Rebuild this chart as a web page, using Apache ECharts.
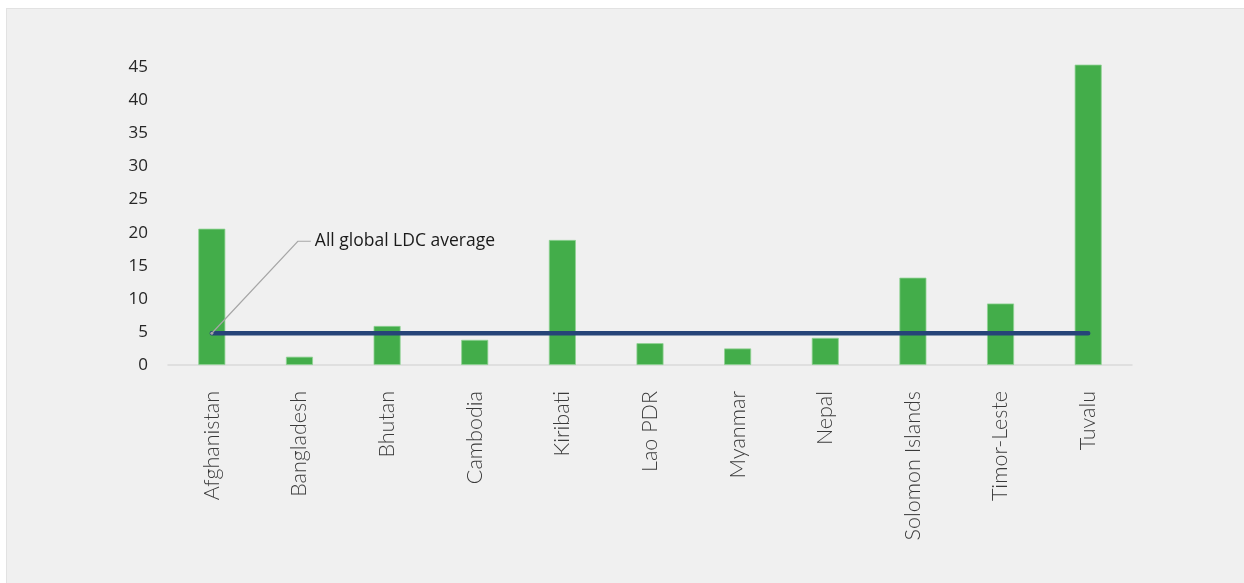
<!DOCTYPE html>
<html>
<head>
<meta charset="utf-8">
<script src="https://cdn.jsdelivr.net/npm/echarts@6/dist/echarts.min.js"></script>
<style>
html,body{margin:0;padding:0;background:#ffffff;}
#panel{position:absolute;left:6px;top:8px;width:1240px;height:577px;background:#f0f0f0;border:1px solid #e2e2e2;box-sizing:border-box;}
#chart{position:absolute;left:0;top:0;width:1244px;height:583px;}
</style>
</head>
<body>
<div id="panel"></div>
<div id="chart"></div>
<script>
const categories = ['Afghanistan','Bangladesh','Bhutan','Cambodia','Kiribati','Lao PDR','Myanmar','Nepal','Solomon Islands','Timor-Leste','Tuvalu'];
const countryValues = [20.6, 1.25, 5.9, 3.8, 18.9, 3.3, 2.5, 4.1, 13.2, 9.3, 45.4];
const ldcAverage = 4.8;
const averageValues = categories.map(() => ldcAverage);
const averageLabel = 'All global LDC average';
const yTicks = [0, 5, 10, 15, 20, 25, 30, 35, 40, 45];

const chart = echarts.init(document.getElementById('chart'), null, {renderer: 'canvas'});
chart.setOption({
  backgroundColor: 'transparent',
  animation: false,
  grid: {left: 168, right: 112, top: 67.3, bottom: 218},
  xAxis: {
    type: 'category',
    data: categories,
    axisLine: {show: true, lineStyle: {color: '#d9d9d9', width: 1.5}},
    axisTick: {show: false},
    axisLabel: {
      rotate: 90,
      margin: 26,
      interval: 0,
      color: '#3a3a3a',
      fontFamily: 'Lato',
      fontWeight: 300,
      fontSize: 21.5
    }
  },
  yAxis: {
    type: 'value',
    min: yTicks[0],
    max: yTicks[yTicks.length - 1],
    interval: 5,
    splitLine: {show: false},
    axisLine: {show: false},
    axisTick: {show: false},
    axisLabel: {
      margin: 20,
      color: '#262626',
      fontFamily: 'Open Sans',
      fontSize: 17
    }
  },
  series: [
    {
      type: 'bar',
      data: countryValues,
      barWidth: 27,
      clip: false,
      itemStyle: {color: '#43ad4a', borderColor: '#8fd293', borderWidth: 0.8},
      z: 2
    },
    {
      type: 'line',
      data: averageValues,
      symbol: 'none',
      lineStyle: {color: '#264478', width: 4.5, cap: 'round'},
      z: 3
    },
    {
      type: 'custom',
      data: [[0, ldcAverage]],
      z: 4,
      silent: true,
      renderItem: function (params, api) {
        const p = api.coord([api.value(0), api.value(1)]);
        const bend = [p[0] + 86, p[1] - 92];
        const end = [bend[0] + 13, bend[1]];
        return {
          type: 'group',
          children: [
            {type: 'polyline', shape: {points: [p, bend, end]}, style: {stroke: '#a6a6a6', lineWidth: 1.2, fill: null}},
            {type: 'circle', shape: {cx: p[0], cy: p[1], r: 1.5}, style: {fill: '#a6a6a6'}},
            {type: 'text', x: end[0] + 4, y: end[1], style: {text: averageLabel, fill: '#1a1a1a', font: '17.5px "Open Sans"', verticalAlign: 'middle', align: 'left'}}
          ]
        };
      }
    }
  ]
});
</script>
</body>
</html>
